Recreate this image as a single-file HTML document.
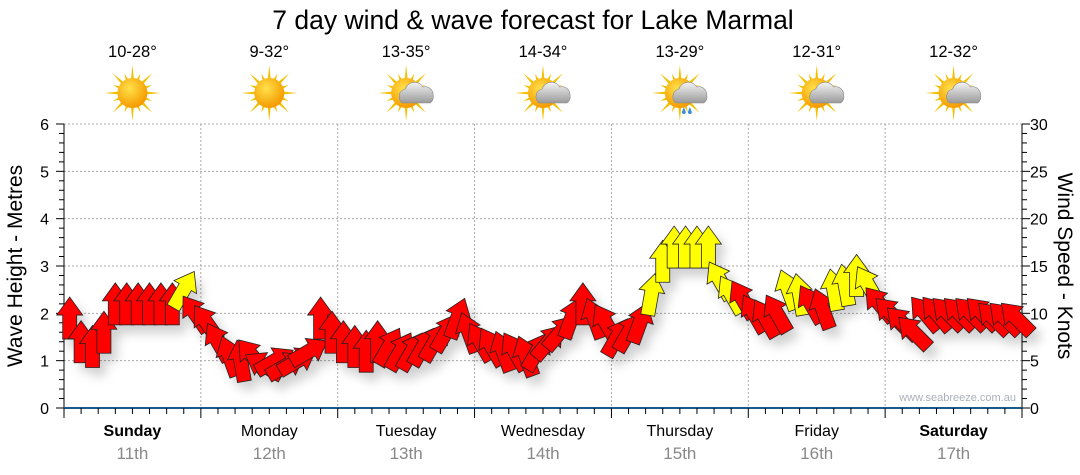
<!DOCTYPE html>
<html><head><meta charset="utf-8">
<style>
body{margin:0;background:#fff;width:1080px;height:475px;overflow:hidden;font-family:"Liberation Sans",sans-serif}
svg{display:block}
</style></head>
<body>
<svg id="chart" width="1080" height="475" xmlns="http://www.w3.org/2000/svg">
<defs>
<radialGradient id="sunG" cx="40%" cy="35%" r="65%"><stop offset="0" stop-color="#ffe14a"/><stop offset="1" stop-color="#f59a00"/></radialGradient>
<linearGradient id="cloudG" x1="0" y1="0" x2="0" y2="1"><stop offset="0" stop-color="#f4f4f4"/><stop offset="1" stop-color="#9a9a9a"/></linearGradient>
<filter id="sh" x="-50%" y="-50%" width="200%" height="200%"><feDropShadow dx="6" dy="8" stdDeviation="5" flood-color="#000" flood-opacity="0.18"/></filter>
</defs>
<text x="533" y="29" text-anchor="middle" font-size="26.5" fill="#000">7 day wind &amp; wave forecast for Lake Marmal</text>
<g id="grid"></g>
<g id="axes"></g>
<g id="icons"></g>
<g id="arrows" filter="url(#sh)"></g>
<text transform="translate(22,266) rotate(-90)" text-anchor="middle" font-size="21">Wave Height - Metres</text>
<text transform="translate(1058,266) rotate(90)" text-anchor="middle" font-size="21">Wind Speed - Knots</text>
<text x="1016" y="401" text-anchor="end" font-size="11" fill="#aab0bb">www.seabreeze.com.au</text>
</svg>
<script>
const days = ["Sunday","Monday","Tuesday","Wednesday","Thursday","Friday","Saturday"];
const dates = ["11th","12th","13th","14th","15th","16th","17th"];
const boldDays = [true,false,false,false,false,false,true];
const temps = ["10-28°","9-32°","13-35°","14-34°","13-29°","12-31°","12-32°"];
const weather = ["sun","sun","cloud","cloud","rain","cloud","cloud"];
const leftTicks = [0,1,2,3,4,5,6];
const rightTicks = [0,5,10,15,20,25,30];
const windSpeed = [
9.5,7,6.5,8,11,11,11,11,11,11,12.5,10,
9,7,5.5,5,5.5,4.5,5,4.5,5,6,9.5,8,
7,6.5,6,7,6.5,6,6,6.5,7,8,9.5,8,
7,6.5,6,6,5.5,6,7,8,9.5,11,9.5,9,
7.5,8,9,12,15.5,17,17,17,17,13.5,12,11.5,
10,9.5,10,12.5,12,11,10.5,12.5,13,14,13,11,
10,9,8,10,10,10,10,10,10,9.5,9.5,9.5];
const windDir = [
0,0,0,0,0,0,0,0,0,0,30,-35,
-35,-30,-20,-10,-40,-60,60,60,60,60,0,0,
0,0,0,0,30,30,30,30,30,30,20,-20,
-30,-30,-20,-30,-20,30,40,40,20,0,-20,-30,
30,30,20,10,0,0,0,0,0,-30,-30,-30,
-30,-30,-30,-20,-10,-30,-20,-10,-10,0,-30,-40,
-45,-45,-45,-40,-40,-45,-45,-45,-45,-45,-45,-45];

const NS="http://www.w3.org/2000/svg";
const X0=64,X1=1022,Y0=408,Y1=124,DW=(X1-X0)/7;
const yM=v=>Y0-(v/6)*(Y0-Y1);
const yK=v=>Y0-(v/30)*(Y0-Y1);
const xT=i=>X0+(i+0.5)*DW/12;
function mk(tag,attrs,parent){const e=document.createElementNS(NS,tag);for(const k in attrs)e.setAttribute(k,attrs[k]);parent.appendChild(e);return e;}
const grid=document.getElementById('grid'),axes=document.getElementById('axes'),icons=document.getElementById('icons'),arrows=document.getElementById('arrows');
leftTicks.forEach(v=>{if(v>0){const l=mk('line',{x1:X0,x2:X1,y1:yM(v),y2:yM(v),stroke:'#aaa','stroke-dasharray':'2,2'},grid);}});
for(let d=1;d<7;d++){const l=mk('line',{x1:X0+d*DW,x2:X0+d*DW,y1:Y1,y2:Y0,stroke:'#aaa','stroke-dasharray':'2,2'},grid);}
mk('line',{x1:X0,x2:X0,y1:Y1,y2:Y0,stroke:'#000'},axes);
mk('line',{x1:X1,x2:X1,y1:Y1,y2:Y0,stroke:'#000'},axes);
const ba=mk('line',{x1:X0,x2:X1,y1:Y0,y2:Y0,stroke:'#1a5a8a','stroke-width':2},axes);

for(let i=0;i<=30;i++){const y=yK(i);const big=i%5===0;
mk('line',{x1:X0-(big?8:5),x2:X0,y1:y,y2:y,stroke:'#000'},axes);
mk('line',{x1:X1,x2:X1+(big?8:5),y1:y,y2:y,stroke:'#000'},axes);}
leftTicks.forEach(v=>{const t=mk('text',{x:49,y:yM(v)+6,'text-anchor':'end','font-size':16},axes);t.textContent=v;});
rightTicks.forEach(v=>{const t=mk('text',{x:1030,y:yK(v)+6,'font-size':16},axes);t.textContent=v;});
for(let i=0;i<=56;i++){const x=X0+i*DW/8;mk('line',{x1:x,x2:x,y1:Y0,y2:Y0+(i%8===0?10:6),stroke:'#000'},axes);}
days.forEach((d,i)=>{const cx=X0+(i+0.5)*DW;
const t=mk('text',{x:cx,y:436,'text-anchor':'middle','font-size':16,'font-weight':boldDays[i]?'bold':'normal'},axes);t.textContent=d;
const t2=mk('text',{x:cx,y:459,'text-anchor':'middle','font-size':17,fill:'#888'},axes);t2.textContent=dates[i];
const tt=mk('text',{x:cx,y:57,'text-anchor':'middle','font-size':16.5},icons);tt.textContent=temps[i];
const g=mk('g',{transform:`translate(${cx},93)`},icons);
for(let r=0;r<16;r++){const a=r*Math.PI/8,L=r%2?21:28;mk('polygon',{points:`${Math.cos(a-0.12)*13},${Math.sin(a-0.12)*13} ${Math.cos(a)*L},${Math.sin(a)*L} ${Math.cos(a+0.12)*13},${Math.sin(a+0.12)*13}`,fill:'#f3c000'},g);}
mk('circle',{r:15,fill:'url(#sunG)'},g);
if(weather[i]!=='sun'){mk('path',{d:'M-4,10 a8,8 0 0 1 3,-14 a10,10 0 0 1 18,-2 a8,8 0 0 1 10,8 a8,8 0 0 1 -3,8 z',fill:'url(#cloudG)',stroke:'#888','stroke-width':0.6},g);}
if(weather[i]==='rain'){mk('path',{d:'M4,14 l-2,5 a2,2 0 0 0 4,0z M10,14 l-2,5 a2,2 0 0 0 4,0z',fill:'#3b8fd8'},g);}
});
windSpeed.forEach((v,i)=>{const x=xT(i),y=yK(v);
const col=v>=12?'#ffff00':'#ff0000';
const p=mk('polygon',{points:'0,-21 13,-3 7,-3 7,21 -7,21 -7,-3 -13,-3',fill:col,stroke:'#222','stroke-width':0.8,transform:`translate(${x},${y}) rotate(${windDir[i]})`},arrows);


});
</script>
</body></html>
